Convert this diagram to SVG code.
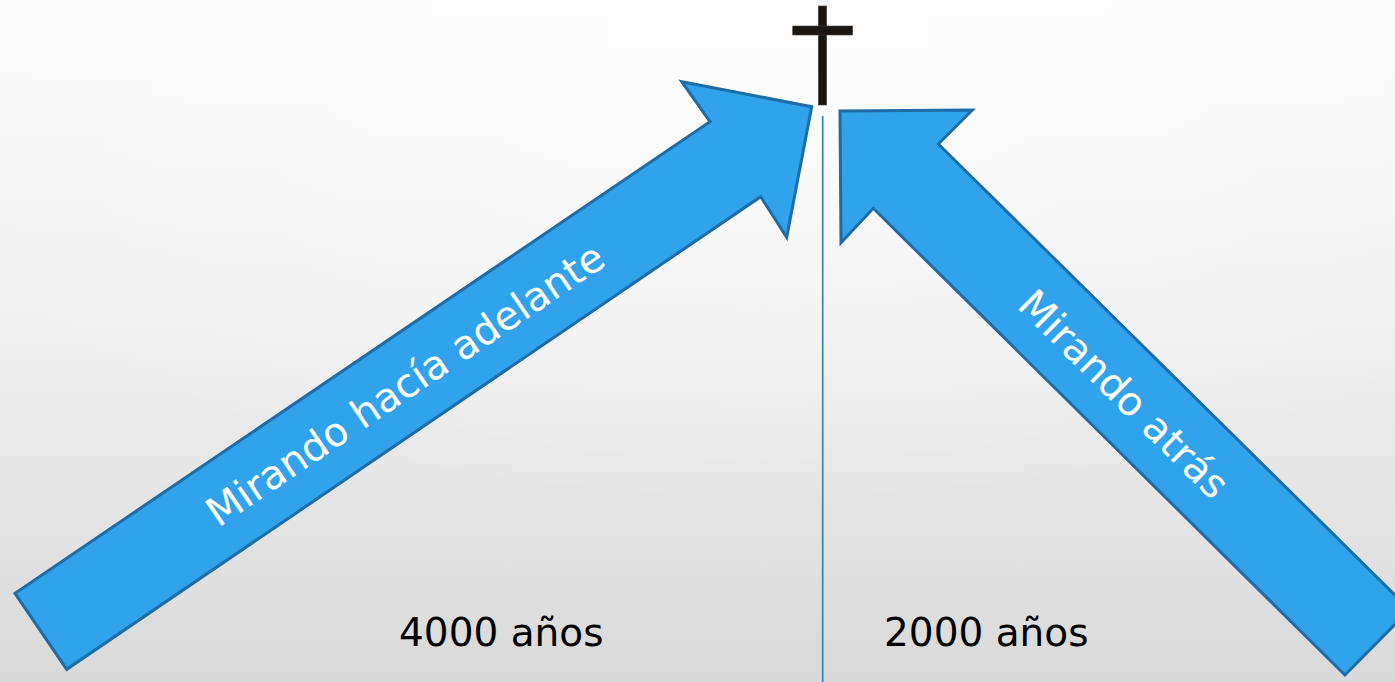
<svg xmlns="http://www.w3.org/2000/svg" width="1395" height="682" viewBox="0 0 1395 682">
  <defs>
    <linearGradient id="bg" x1="0" y1="0" x2="0" y2="1">
      <stop offset="0" stop-color="#fbfbfb"/>
      <stop offset="0.45" stop-color="#f1f1f1"/>
      <stop offset="1" stop-color="#d9d9d9"/>
    </linearGradient>
    <radialGradient id="glow" cx="0.55" cy="0.05" r="0.7">
      <stop offset="0" stop-color="#ffffff" stop-opacity="0.6"/>
      <stop offset="1" stop-color="#ffffff" stop-opacity="0"/>
    </radialGradient>
  </defs>
  <style>
    .arrow { fill: #30a3ec; stroke: #1d6ca6; stroke-width: 3; stroke-linejoin: miter; }
    .arrowText { font-family: "DejaVu Sans", "Liberation Sans", sans-serif; font-size: 40px; fill: #ffffff; text-anchor: middle; }
    .label { font-family: "DejaVu Sans", "Liberation Sans", sans-serif; font-size: 39px; fill: #000000; }
    .cross { fill: #1b1612; stroke: #4a4540; stroke-width: 0.6; }
    .divider { stroke: #2b7cc0; stroke-width: 1.6; fill: none; }
  </style>

  <rect id="background" x="0" y="0" width="1395" height="682" fill="url(#bg)"/>
  <rect x="0" y="0" width="1395" height="682" fill="url(#glow)"/>

  <g id="connectors">
    <line class="divider" x1="822.7" y1="116" x2="822.7" y2="682"/>
  </g>

  <g id="cross">
    <rect class="cross" x="818.3" y="6" width="8.4" height="99"/>
    <rect class="cross" x="792.7" y="26" width="60" height="9"/>
  </g>

  <g id="arrow-forward">
    <polygon class="arrow" points="66.7,669.3 15,593.3 710,121.7 681.7,81.7 811.7,106.7 786.7,237.3 760.7,196.7"/>
    <text class="arrowText" transform="translate(413,396) rotate(-34.1)" x="0" y="0">Mirando hacía adelante</text>
  </g>

  <g id="arrow-back">
    <polygon class="arrow" points="1345,675 873.3,208.3 841,242.7 840,111 972.3,110 938.3,144 1409.7,609.6"/>
    <text class="arrowText" transform="translate(1114,404) rotate(44.7)" x="0" y="0">Mirando atrás</text>
  </g>

  <g id="label-4000">
    <text class="label" x="399" y="646">4000 años</text>
  </g>
  <g id="label-2000">
    <text class="label" x="884" y="646">2000 años</text>
  </g>
</svg>
